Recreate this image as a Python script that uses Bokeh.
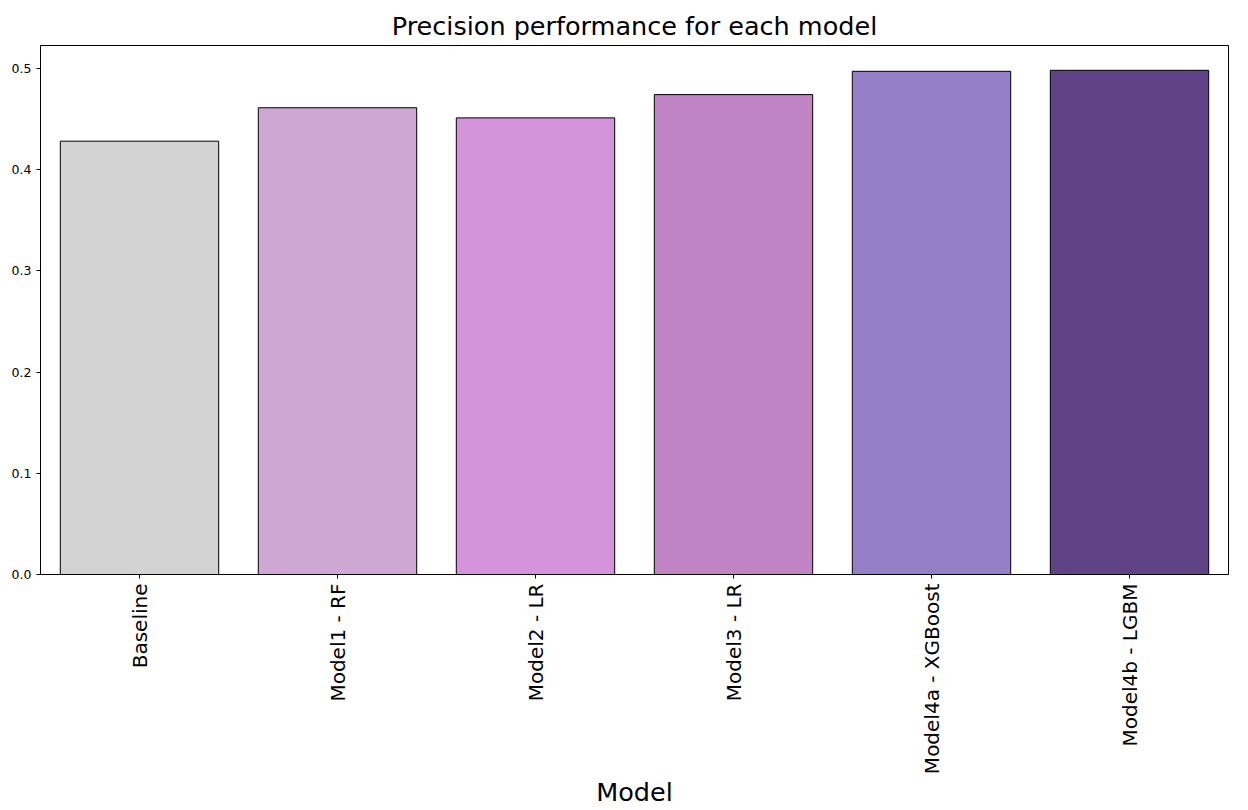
import math
from bokeh.plotting import figure
from bokeh.models import FixedTicker, PrintfTickFormatter, Range1d, ColumnDataSource
from bokeh.embed import file_html
from bokeh.resources import INLINE

models = ["Baseline", "Model1 - RF", "Model2 - LR", "Model3 - LR", "Model4a - XGBoost", "Model4b - LGBM"]
precision = [0.428, 0.461, 0.451, 0.474, 0.497, 0.498]
colors = ["#d3d3d3", "#cea8d2", "#d494db", "#c083c3", "#9580c7", "#5f4386"]
y_ticks = [0.0, 0.1, 0.2, 0.3, 0.4, 0.5]

src = ColumnDataSource(dict(model=models, precision=precision, color=colors))

p = figure(x_range=models, y_range=Range1d(0, 0.5225), width=1240, height=810,
           output_backend="svg", toolbar_location=None,
           title="Precision performance for each model",
           min_border_left=40, min_border_right=12, min_border_top=45, min_border_bottom=200)

p.vbar(x="model", top="precision", width=0.8, source=src, fill_color="color",
       line_color="black", line_width=1)

p.title.text_font = "DejaVu Sans"
p.title.text_font_size = "25.5px"
p.title.text_font_style = "normal"
p.title.align = "center"
p.title.text_color = "#000000"
p.title.offset = 0

p.xgrid.visible = False
p.ygrid.visible = False
p.outline_line_color = "black"
p.outline_line_width = 1

p.yaxis.ticker = FixedTicker(ticks=y_ticks)
p.yaxis.formatter = PrintfTickFormatter(format="%.1f")
p.yaxis.major_label_text_font = "DejaVu Sans"
p.yaxis.major_label_text_font_size = "12.5px"
p.yaxis.minor_tick_line_color = None
p.yaxis.major_tick_out = 4
p.yaxis.major_tick_in = 0
p.yaxis.axis_line_color = "black"
p.yaxis.major_label_text_color = "#000000"

p.xaxis.major_label_orientation = math.pi / 2
p.xaxis.major_label_text_font = "DejaVu Sans"
p.xaxis.major_label_text_font_size = "20px"
p.xaxis.major_label_text_color = "#000000"
p.xaxis.major_label_standoff = 5
p.xaxis.major_tick_out = 4
p.xaxis.major_tick_in = 0
p.xaxis.axis_line_color = "black"
p.xaxis.axis_label = "Model"
p.xaxis.axis_label_text_font = "DejaVu Sans"
p.xaxis.axis_label_text_font_size = "25.5px"
p.xaxis.axis_label_text_font_style = "normal"
p.xaxis.axis_label_text_color = "#000000"
p.xaxis.axis_label_text_line_height = 0.85
p.xaxis.axis_label_standoff = 0

open("out.html", "w").write(file_html(p, INLINE))
